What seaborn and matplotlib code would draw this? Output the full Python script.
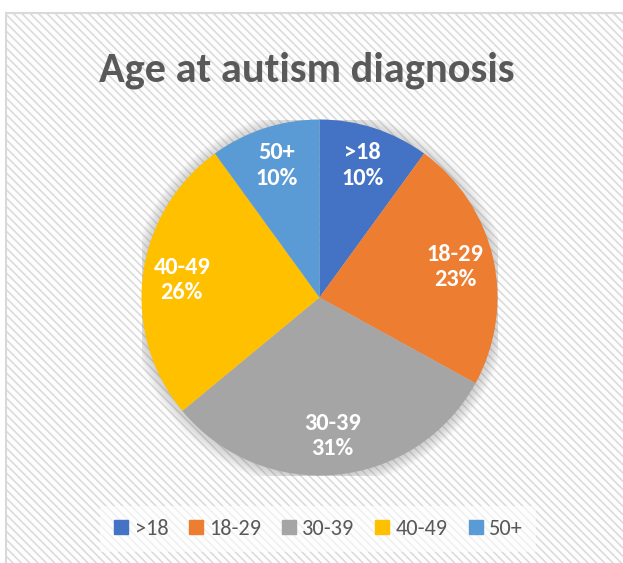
import matplotlib
matplotlib.use("Agg")
import matplotlib.pyplot as plt
import seaborn as sns
from matplotlib.patches import Rectangle, Circle
from matplotlib.lines import Line2D

sns.set_theme(style="white")
plt.rcParams['font.family'] = ['Carlito', 'Lato', 'DejaVu Sans']

# data
categories = [">18", "18-29", "30-39", "40-49", "50+"]
percents = [10, 23, 31, 26, 10]
colors = ["#4472C4", "#ED7D31", "#A5A5A5", "#FFC000", "#5B9BD5"]

W, H = 623, 563
fig = plt.figure(figsize=(W / 100, H / 100), dpi=100)
fig.patch.set_facecolor("white")

# hatched chart area with light frame
plt.rcParams['hatch.color'] = '#f3f3f3'
plt.rcParams['hatch.linewidth'] = 1.1
frame = Rectangle((6 / W, -0.05), 1.2, 1 - 13 / H + 0.05, transform=fig.transFigure,
                  facecolor="#fdfdfd", edgecolor="#d9d9d9", linewidth=1.5,
                  hatch="\\\\\\\\", zorder=-5)
fig.patches.append(frame)

fig.text(307 / W, 1 - 70 / H, "Age at autism diagnosis", ha="center", va="center",
         fontsize=30.5, fontweight="bold", color="#595959")

cx, cy, r = 319.5, 297.5, 178
ax = fig.add_axes([(cx - r) / W, 1 - (cy + r) / H, 2 * r / W, 2 * r / H])
ax.set_facecolor("none")

# soft shadow behind the pie
for i in range(12):
    ax.add_patch(Circle((0, -0.006), 1.0 + 0.006 * i, facecolor="#7f7f7f",
                        alpha=0.03, edgecolor="none", zorder=0))

labels = [f"{c}\n{p}%" for c, p in zip(categories, percents)]
wedges, texts = ax.pie(percents, colors=colors, startangle=90, counterclock=False,
                       labels=labels, labeldistance=0.78,
                       wedgeprops=dict(linewidth=0),
                       textprops=dict(color="white", fontsize=17.5, fontweight="bold",
                                      ha="center", va="center", linespacing=1.25))
ax.set_xlim(-1, 1)
ax.set_ylim(-1, 1)
ax.axis("off")

handles = [Line2D([0], [0], marker="s", linestyle="none", markersize=10.5,
                  markerfacecolor=c, markeredgecolor=c) for c in colors]
leg = fig.legend(handles, categories, loc="center", ncol=5,
                 bbox_to_anchor=(318 / W, 1 - 529 / H), frameon=True,
                 fontsize=16, handletextpad=0.25, columnspacing=0.9,
                 borderpad=0.6, handlelength=0.7)
leg.get_frame().set_facecolor("white")
leg.get_frame().set_edgecolor("none")
leg.get_frame().set_alpha(0.6)
leg.get_frame().set_boxstyle("square", pad=0)
for t in leg.get_texts():
    t.set_color("#595959")

fig.savefig("out.png", dpi=100)
